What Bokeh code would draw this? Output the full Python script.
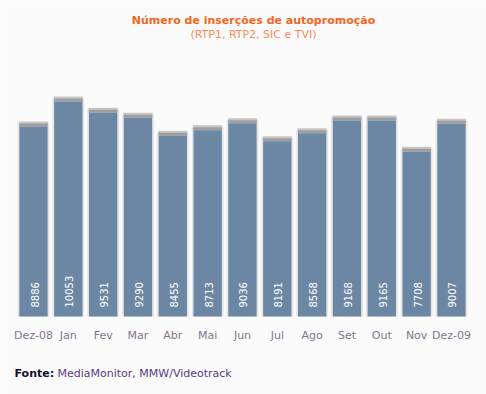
import math
from bokeh.plotting import figure
from bokeh.models import Range1d, ColumnDataSource
from bokeh.core.properties import value
from bokeh.embed import file_html
from bokeh.resources import INLINE

# ---- data ----
categories = ["Dez-08", "Jan", "Fev", "Mar", "Abr", "Mai", "Jun",
              "Jul", "Ago", "Set", "Out", "Nov", "Dez-09"]
insercoes = [8886, 10053, 9531, 9290, 8455, 8713, 9036,
             8191, 8568, 9168, 9165, 7708, 9007]
title_text = "Número de inserções de autopromoção"
subtitle_text = "(RTP1, RTP2, SIC e TVI)"
source_bold = "Fonte:"
source_text = "MediaMonitor, MMW/Videotrack"

# ---- layout ----
W, H = 486, 394
pitch = 34.83          # px per category
x0 = 33.0              # px of first category centre
base = 316.0           # px (from top) of value 0
k = 0.02139            # px per unit of value
FONT = "DejaVu Sans"
BG = "#fbfbfb"

def xd(px):
    return (px - x0) / pitch

def yd(px_top):
    return (base - px_top) / k

px = 1.0 / k  # one pixel in value units

p = figure(width=W, height=H, output_backend="svg", toolbar_location=None,
           x_range=Range1d(xd(0), xd(W)), y_range=Range1d(yd(H), yd(0)),
           x_axis_location=None, y_axis_location=None, min_border=0)
p.background_fill_color = BG
p.border_fill_color = BG
p.outline_line_color = None
p.xgrid.visible = False
p.ygrid.visible = False

idx = list(range(len(categories)))
src = ColumnDataSource(dict(
    x=idx,
    xl=[i + 1.0 / pitch for i in idx],
    v=insercoes,
    shadow_top=[v + 3 * px for v in insercoes],
    cap_dark_top=[v + 3 * px for v in insercoes],
    cap_light_bottom=[v + 2.5 * px for v in insercoes],
    cap_light_top=[v + 5 * px for v in insercoes],
    lab=[str(v) for v in insercoes],
    cat=categories,
))

bw = 28.3 / pitch
# soft shadow around bars
p.vbar(x="x", width=bw + 3.5 / pitch, bottom=0, top="shadow_top", source=src,
       fill_color="#e4e4e4", line_color=None)
# cap (grey top)
p.vbar(x="x", width=bw + 1.0 / pitch, bottom="cap_light_bottom", top="cap_light_top",
       source=src, fill_color="#c6c6c6", line_color=None)
p.vbar(x="x", width=bw + 0.5 / pitch, bottom="v", top="cap_dark_top", source=src,
       fill_color="#9f9f9f", line_color=None)
# main bars
p.vbar(x="x", width=bw, bottom=0, top="v", source=src,
       fill_color="#6b87a3", line_color=None)

# value labels inside bars
p.text(x="xl", y=yd(307), text="lab", source=src, angle=math.pi / 2,
       text_align="left", text_baseline="middle", text_color="white",
       text_font=value(FONT), text_font_size="10px")

# category labels
p.text(x="x", y=yd(335), text="cat", source=src, text_align="center",
       text_baseline="middle", text_color="#857590",
       text_font=value(FONT), text_font_size="11px")

# titles
p.text(x=[xd(253)], y=[yd(20)], text=[title_text], text_align="center",
       text_baseline="middle", text_color="#f5661e", text_font_style="bold",
       text_font=value(FONT), text_font_size="11px")
p.text(x=[xd(253)], y=[yd(34)], text=[subtitle_text], text_align="center",
       text_baseline="middle", text_color="#fc8a5c",
       text_font=value(FONT), text_font_size="11px")

# source footer
p.text(x=[xd(14)], y=[yd(373)], text=[source_bold], text_align="left",
       text_baseline="middle", text_color="#14102e", text_font_style="bold",
       text_font=value(FONT), text_font_size="11px")
p.text(x=[xd(57)], y=[yd(373)], text=[source_text], text_align="left",
       text_baseline="middle", text_color="#5a3a80",
       text_font=value(FONT), text_font_size="11px")

open("out.html", "w").write(file_html(p, INLINE))
